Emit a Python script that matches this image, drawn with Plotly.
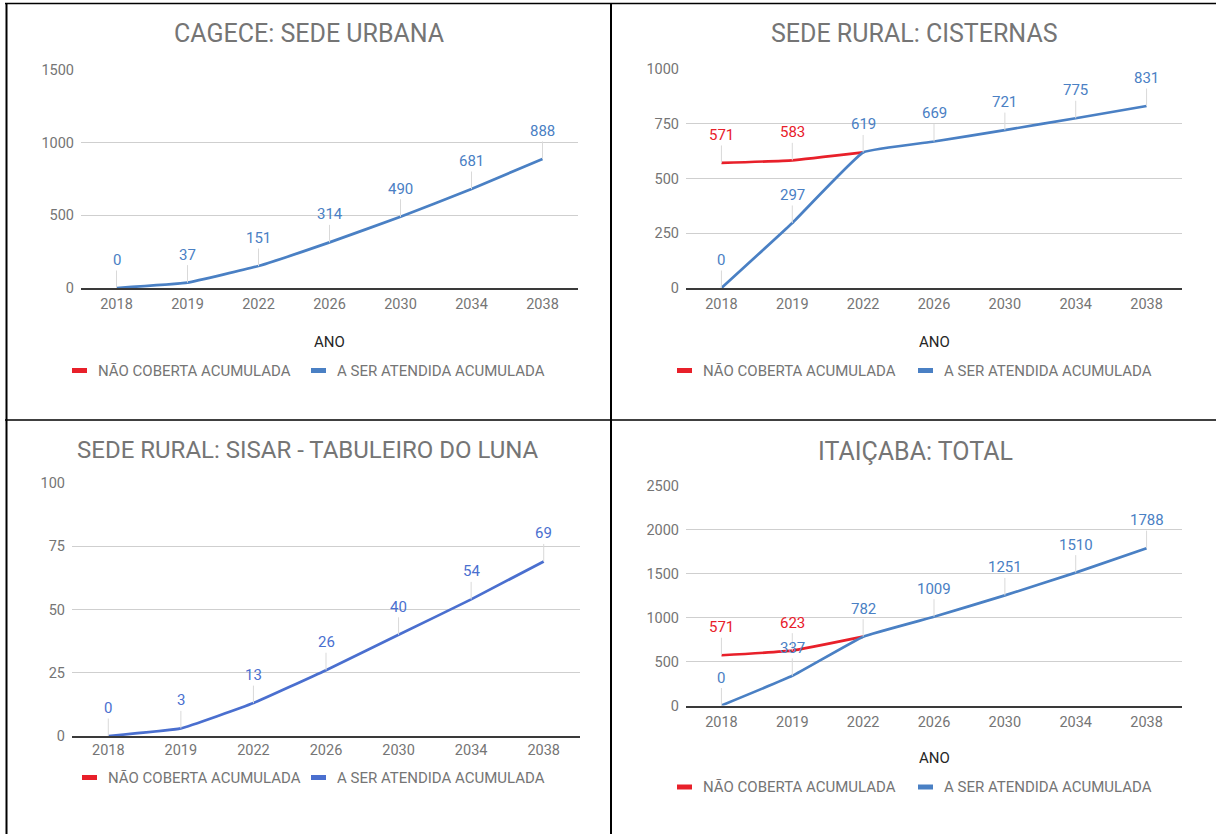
import plotly.graph_objects as go

# Anos de referência (eixo categórico comum aos quatro gráficos)
ANOS = ["2018", "2019", "2022", "2026", "2030", "2034", "2038"]

# CAGECE: sede urbana
URBANA_ATENDIDA = [0, 37, 151, 314, 490, 681, 888]
URBANA_TICKS = [0, 500, 1000, 1500]

# Sede rural: cisternas
CISTERNAS_NAO_COBERTA = [571, 583, 619, None, None, None, None]
CISTERNAS_ATENDIDA = [0, 297, 619, 669, 721, 775, 831]
CISTERNAS_TICKS = [0, 250, 500, 750, 1000]

# Sede rural: SISAR - Tabuleiro do Luna
SISAR_ATENDIDA = [0, 3, 13, 26, 40, 54, 69]
SISAR_TICKS = [0, 25, 50, 75, 100]

# Itaiçaba: total
TOTAL_NAO_COBERTA = [571, 623, 782, None, None, None, None]
TOTAL_ATENDIDA = [0, 337, 782, 1009, 1251, 1510, 1788]
TOTAL_TICKS = [0, 500, 1000, 1500, 2000, 2500]

TITULOS = [
    "CAGECE: SEDE URBANA",
    "SEDE RURAL: CISTERNAS",
    "SEDE RURAL: SISAR - TABULEIRO DO LUNA",
    "ITAIÇABA: TOTAL",
]
SERIE_NAO = "NÃO COBERTA ACUMULADA"
SERIE_ATENDIDA = "A SER ATENDIDA ACUMULADA"
TITULO_X = "ANO"

W, H = 1216, 834
FONTE = "Roboto"
CINZA = "#757575"
AZUL = "#4a80c4"
AZUL_SISAR = "#4a6fcf"
VERMELHO = "#e8202a"


def fx(v):
    return v / W


def fy(v):
    return 1 - v / H


# Geometria de cada painel, em pixels da página
paineis = [
    dict(titulo=TITULOS[0], nao=None, atendida=URBANA_ATENDIDA, ticks=URBANA_TICKS,
         x0=81, x1=578, y0=70, y1=288, cx=309, ty=34, tsize=25, ano_y=341.5, leg_y=370.5,
         leg_r=72, leg_b=311, azul=AZUL, xstand=2),
    dict(titulo=TITULOS[1], nao=CISTERNAS_NAO_COBERTA, atendida=CISTERNAS_ATENDIDA,
         ticks=CISTERNAS_TICKS,
         x0=686, x1=1182, y0=69, y1=288, cx=914, ty=34, tsize=25, ano_y=341.5, leg_y=370.5,
         leg_r=677, leg_b=918, azul=AZUL, xstand=2),
    dict(titulo=TITULOS[2], nao=None, atendida=SISAR_ATENDIDA, ticks=SISAR_TICKS,
         x0=72, x1=580, y0=483, y1=736, cx=308, ty=450, tsize=24, ano_y=None, leg_y=777.5,
         leg_r=82, leg_b=311, azul=AZUL_SISAR, xstand=0),
    dict(titulo=TITULOS[3], nao=TOTAL_NAO_COBERTA, atendida=TOTAL_ATENDIDA, ticks=TOTAL_TICKS,
         x0=686, x1=1182, y0=485.5, y1=705.5, cx=915, ty=451, tsize=25, ano_y=758, leg_y=787,
         leg_r=677, leg_b=918, azul=AZUL, xstand=2),
]

fig = go.Figure()
layout = dict(
    width=W, height=H,
    margin=dict(l=0, r=0, t=0, b=0, pad=0, autoexpand=False),
    paper_bgcolor="white", plot_bgcolor="white",
    showlegend=False,
    font=dict(family=FONTE, color=CINZA),
)
annotations = []
shapes = []

for i, p in enumerate(paineis, start=1):
    sx = "" if i == 1 else str(i)
    xref, yref = "x" + sx, "y" + sx

    layout["xaxis" + sx] = dict(
        domain=[fx(p["x0"]), fx(p["x1"])], anchor=yref,
        type="category", categoryorder="array", categoryarray=ANOS,
        range=[-0.5, len(ANOS) - 0.5], automargin=False,
        showgrid=False, zeroline=False,
        showline=True, linecolor="#3a3a3a", linewidth=2,
        ticks="", ticklabelstandoff=p["xstand"],
        tickfont=dict(family=FONTE, size=14.5, color=CINZA),
        fixedrange=True,
    )
    layout["yaxis" + sx] = dict(
        domain=[fy(p["y1"]), fy(p["y0"])], anchor=xref,
        range=[0, p["ticks"][-1]], tickmode="array", tickvals=p["ticks"],
        automargin=False,
        showgrid=True, gridcolor="#cfcfcf", gridwidth=1,
        zeroline=False, showline=False,
        ticks="", ticklabelstandoff=6,
        tickfont=dict(family=FONTE, size=14.5, color=CINZA),
        fixedrange=True,
    )

    # Séries
    if p["nao"] is not None:
        fig.add_trace(go.Scatter(
            x=ANOS, y=p["nao"], xaxis=xref, yaxis=yref, mode="lines",
            name=SERIE_NAO, line=dict(color=VERMELHO, width=2.7, shape="spline", smoothing=0.3),
            connectgaps=False, hoverinfo="skip",
        ))
    fig.add_trace(go.Scatter(
        x=ANOS, y=p["atendida"], xaxis=xref, yaxis=yref, mode="lines",
        name=SERIE_ATENDIDA, line=dict(color=p["azul"], width=2.7, shape="spline", smoothing=0.3),
        hoverinfo="skip",
    ))

    # Rótulos de valor com linha-guia (x = índice da categoria no eixo)
    def rotulo(idx, valor, cor):
        annotations.append(dict(
            x=idx, y=valor, xref=xref, yref=yref, text=str(valor),
            showarrow=True, arrowhead=0, arrowwidth=1, arrowcolor="#d9d9d9",
            ax=0, ay=-28, standoff=0,
            font=dict(family=FONTE, size=15, color=cor),
        ))

    if p["nao"] is not None:
        for idx, (v, b) in enumerate(zip(p["nao"], p["atendida"])):
            if v is not None and v != b:
                rotulo(idx, v, VERMELHO)
    for idx, v in enumerate(p["atendida"]):
        rotulo(idx, v, p["azul"])

    # Título do gráfico
    annotations.append(dict(
        x=fx(p["cx"]), y=fy(p["ty"]), xref="paper", yref="paper",
        text=p["titulo"], showarrow=False, xanchor="center", yanchor="middle",
        font=dict(family=FONTE, size=p["tsize"], color=CINZA),
    ))
    # Título do eixo X
    if p["ano_y"] is not None:
        annotations.append(dict(
            x=fx((p["x0"] + p["x1"]) / 2), y=fy(p["ano_y"]), xref="paper", yref="paper",
            text=TITULO_X, showarrow=False, xanchor="center", yanchor="middle",
            font=dict(family=FONTE, size=15, color="#262626"),
        ))

    # Legenda
    for xs, cor, nome in ((p["leg_r"], VERMELHO, SERIE_NAO), (p["leg_b"], p["azul"], SERIE_ATENDIDA)):
        shapes.append(dict(
            type="rect", xref="paper", yref="paper",
            x0=fx(xs), x1=fx(xs + 15), y0=fy(p["leg_y"] + 2.5), y1=fy(p["leg_y"] - 2.5),
            fillcolor=cor, line=dict(width=0),
        ))
        annotations.append(dict(
            x=fx(xs + 23.5), y=fy(p["leg_y"]), xref="paper", yref="paper",
            text=nome, showarrow=False, xanchor="left", yanchor="middle",
            font=dict(family=FONTE, size=15, color=CINZA),
        ))

# Grade da tabela que contém os quatro gráficos
for x0, y0, x1, y1, w in [
    (5, 3.5, W, 3.5, 1.5),
    (5, 420, W, 420, 1.5),
    (6.5, 3, 6.5, H, 2),
    (611, 3, 611, H, 2),
]:
    shapes.append(dict(type="line", xref="paper", yref="paper",
                       x0=fx(x0), y0=fy(y0), x1=fx(x1), y1=fy(y1),
                       line=dict(color="black", width=w)))

layout["annotations"] = annotations
layout["shapes"] = shapes
fig.update_layout(**layout)
fig.write_html("out.html", config={"displayModeBar": False})
